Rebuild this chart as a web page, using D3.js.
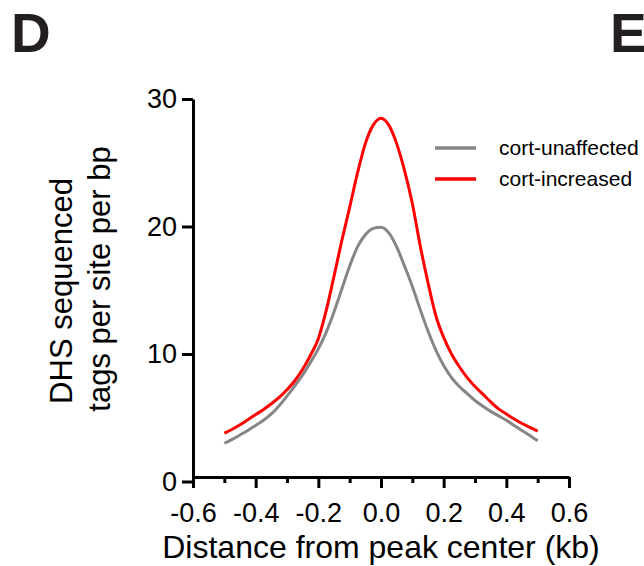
<!DOCTYPE html>
<html>
<head>
<meta charset="utf-8">
<script src="https://cdn.jsdelivr.net/npm/d3@7"></script>
<style>
  body { margin: 0; background: #fff; }
  text { font-family: "Liberation Sans", Arial, sans-serif; }
</style>
</head>
<body>
<div id="chart"></div>
<script>
// distance from peak center (kb)
const distance = [-0.5, -0.475, -0.45, -0.425, -0.4, -0.375, -0.35, -0.325, -0.3, -0.275,
  -0.25, -0.225, -0.2, -0.175, -0.15, -0.125, -0.1, -0.075, -0.05, -0.025, 0,
  0.025, 0.05, 0.075, 0.1, 0.125, 0.15, 0.175, 0.2, 0.225, 0.25, 0.275, 0.3,
  0.325, 0.35, 0.375, 0.4, 0.425, 0.45, 0.475, 0.5];
const unaffected = [3.0, 3.3, 3.65, 4.0, 4.4, 4.8, 5.3, 5.95, 6.7, 7.5,
  8.35, 9.35, 10.4, 11.7, 13.3, 15.1, 16.9, 18.4, 19.35, 19.85, 19.95,
  19.5, 18.4, 16.9, 15.3, 13.5, 11.8, 10.3, 9.1, 8.15, 7.45, 6.9, 6.35,
  5.9, 5.5, 5.15, 4.8, 4.4, 4.0, 3.6, 3.2];
const increased = [3.8, 4.1, 4.45, 4.85, 5.25, 5.65, 6.1, 6.6, 7.2, 7.9,
  8.8, 9.9, 11.2, 13.4, 16.1, 18.9, 21.5, 24.2, 26.5, 27.95, 28.5,
  27.95, 26.5, 24.4, 21.8, 18.5, 15.6, 13.0, 11.3, 10.0, 9.0, 8.15, 7.45,
  6.85, 6.25, 5.7, 5.3, 4.9, 4.55, 4.25, 3.95];
const seriesNames = ["cort-unaffected", "cort-increased"];
const seriesColors = ["#868686", "#ff0000"];
const xTicks = [-0.6, -0.5, -0.4, -0.3, -0.2, -0.1, 0, 0.1, 0.2, 0.3, 0.4, 0.5, 0.6];
const yTicks = [0, 10, 20, 30];

const W = 644, H = 566;
let svg = d3.select("#chart").append("svg")
  .attr("width", W).attr("height", H);

let x = d3.scaleLinear().domain([-0.6, 0.6]).range([193, 569]);
let y = d3.scaleLinear().domain([0, 30]).range([481.5, 99]);

// panel letters (E is cut by the right edge, as in the figure)
svg.append("text").attr("x", 11).attr("y", 52)
  .attr("font-size", 55).attr("font-weight", "bold").attr("fill", "#231f20").text("D");
svg.append("text").attr("x", 610).attr("y", 52)
  .attr("font-size", 55).attr("font-weight", "bold").attr("fill", "#231f20").text("E");

// y axis
let yAxis = svg.append("g")
  .attr("transform", "translate(193,0)")
  .call(d3.axisLeft(y).tickValues(yTicks).tickSize(11).tickSizeOuter(0).tickPadding(5));
yAxis.selectAll("path, line").attr("stroke", "#000").attr("stroke-width", 3);
yAxis.selectAll("text").attr("font-size", 27).attr("fill", "#000")
  .attr("font-family", "'Liberation Sans', Arial, sans-serif");

// x axis (sits slightly above y = 0, as in the figure)
let fmt = d3.format(".1f");
let xAxis = svg.append("g")
  .attr("transform", "translate(0,477)")
  .call(d3.axisBottom(x).tickValues(xTicks).tickSizeOuter(0)
    .tickFormat((d, i) => i % 2 === 0 ? fmt(d).replace("\u2212", "-") : ""));
xAxis.select(".domain").attr("stroke", "#000").attr("stroke-width", 3);
xAxis.selectAll(".tick line").attr("stroke", "#000").attr("stroke-width", 3)
  .attr("y2", (d, i) => i % 2 === 0 ? 11 : 6);
xAxis.selectAll(".tick text").attr("y", 26).attr("font-size", 27).attr("fill", "#000")
  .attr("font-family", "'Liberation Sans', Arial, sans-serif");

// axis titles
svg.append("text").attr("x", 381).attr("y", 558).attr("text-anchor", "middle")
  .attr("font-size", 32).attr("fill", "#000").text("Distance from peak center (kb)");
svg.append("text").attr("transform", "translate(72,291) rotate(-90)")
  .attr("text-anchor", "middle").attr("font-size", 31).attr("fill", "#000").text("DHS sequenced");
svg.append("text").attr("transform", "translate(110,279) rotate(-90)")
  .attr("text-anchor", "middle").attr("font-size", 31).attr("fill", "#000").text("tags per site per bp");

// lines
let line = d3.line()
  .x((d, i) => x(distance[i]))
  .y(d => y(d))
  .curve(d3.curveMonotoneX);
[unaffected, increased].forEach((vals, k) => {
  svg.append("path")
    .datum(vals)
    .attr("fill", "none")
    .attr("stroke", seriesColors[k])
    .attr("stroke-width", 3)
    .attr("stroke-linejoin", "round")
    .attr("d", line);
});

// legend
let legend = svg.append("g");
seriesNames.forEach((name, k) => {
  let ly = 148 + k * 31;
  legend.append("line").attr("x1", 435).attr("x2", 476).attr("y1", ly).attr("y2", ly)
    .attr("stroke", seriesColors[k]).attr("stroke-width", 3.5);
  legend.append("text").attr("x", 499).attr("y", ly).attr("dy", "0.35em")
    .attr("font-size", 21).attr("fill", "#000").text(name);
});
</script>
</body>
</html>
